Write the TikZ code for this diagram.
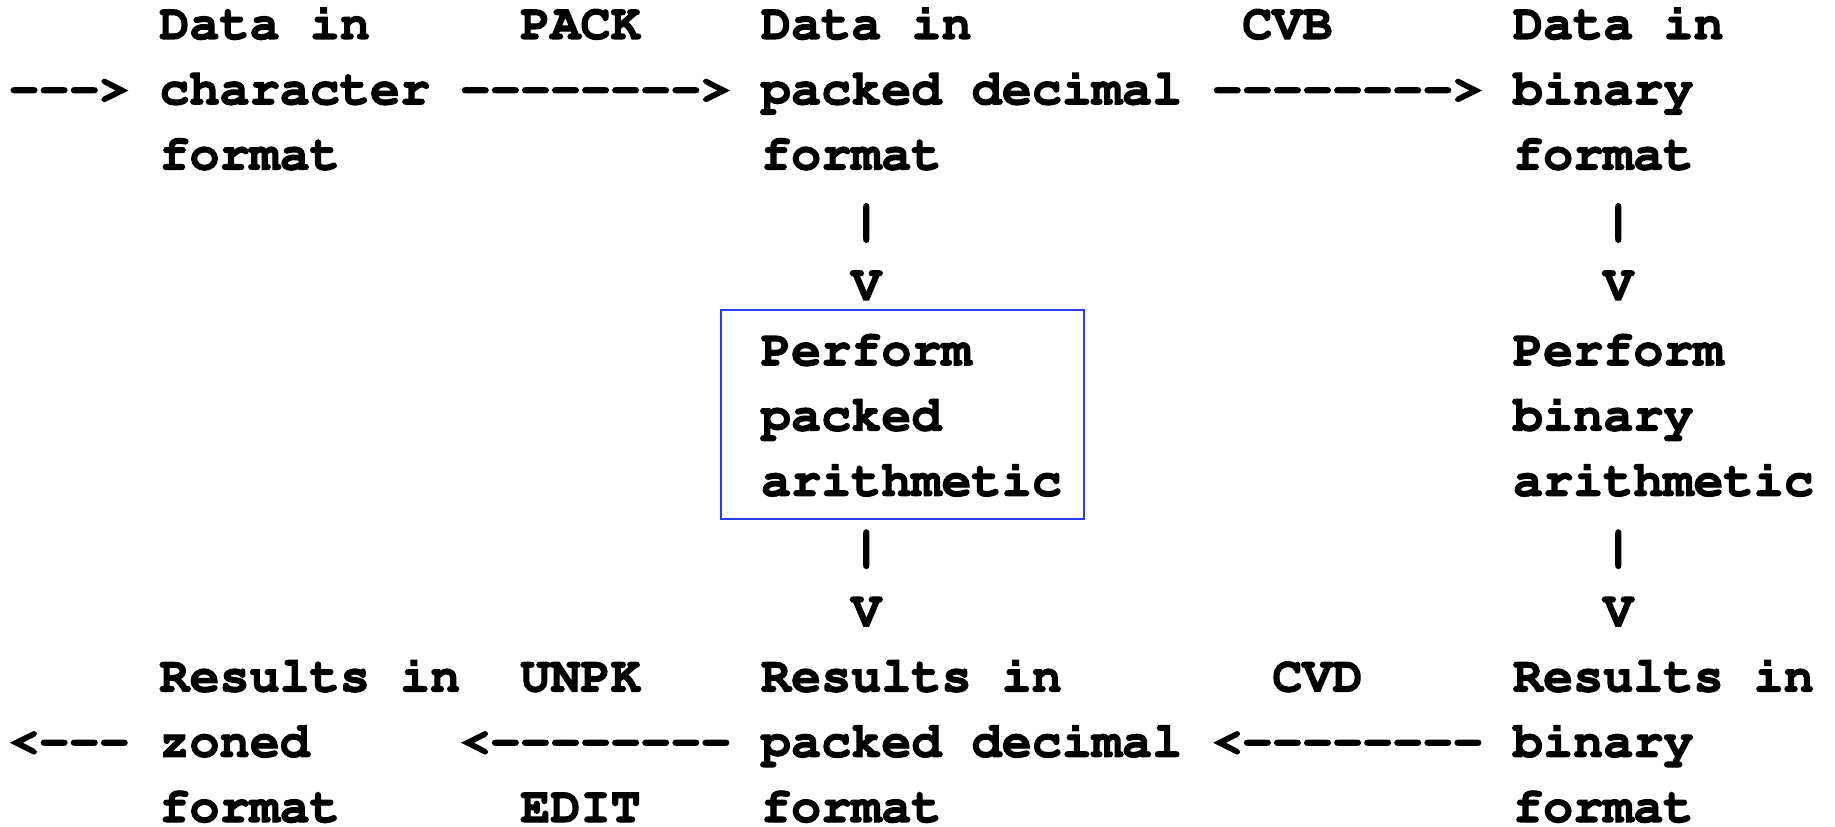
\documentclass[tikz,border=0pt]{standalone}
\usepackage[T1]{fontenc}
\definecolor{frameblue}{RGB}{40,60,255}
% bold Courier at a size whose cell is 15.04pt wide
\newcommand\codefont{\fontencoding{T1}\fontfamily{pcr}\fontseries{b}\fontshape{n}\fontsize{25.07pt}{32.6pt}\selectfont}
\begin{document}
% One unit in x is one character cell, one unit in y is one text line.
\begin{tikzpicture}[x=15.04pt, y=-32.625pt,
  txt/.style={anchor=base west, inner sep=0pt, outer sep=0pt, font=\codefont,
    execute at begin node={\special{pdf:code q 2 Tr 0.55 w}},
    execute at end node={\special{pdf:code Q}}},
  frame/.style={draw=frameblue, line width=1pt}]
\useasboundingbox[fill=white] (-0.2992,-0.5977) rectangle (60.705,12.0766);

% top row: conversions into working formats
\node[txt] (a1) at (5,0) {Data in};
\node[txt] (a2) at (5,1) {character};
\node[txt] (a3) at (5,2) {format};
\node[txt] (in) at (0,1) {-{}-{}-{}>};
\node[txt] (pack) at (17,0) {PACK};
\node[txt] (packarr) at (15,1) {-{}-{}-{}-{}-{}-{}-{}-{}>};
\node[txt] (b1) at (25,0) {Data in};
\node[txt] (b2) at (25,1) {packed decimal};
\node[txt] (b3) at (25,2) {format};
\node[txt] (cvb) at (41,0) {CVB};
\node[txt] (cvbarr) at (40,1) {-{}-{}-{}-{}-{}-{}-{}-{}>};
\node[txt] (c1) at (50,0) {Data in};
\node[txt] (c2) at (50,1) {binary};
\node[txt] (c3) at (50,2) {format};

% downward arrows into the arithmetic step
\node[txt] (bbar1) at (28,3) {|};
\node[txt] (bv1) at (28,4) {V};
\node[txt] (cbar1) at (53,3) {|};
\node[txt] (cv1) at (53,4) {V};

% arithmetic step
\node[txt] (p1) at (25,5) {Perform};
\node[txt] (p2) at (25,6) {packed};
\node[txt] (p3) at (25,7) {arithmetic};
\node[txt] (q1) at (50,5) {Perform};
\node[txt] (q2) at (50,6) {binary};
\node[txt] (q3) at (50,7) {arithmetic};
\draw[frame] (23.67,4.16) rectangle (35.74,7.356);

% downward arrows to the results
\node[txt] (bbar2) at (28,8) {|};
\node[txt] (bv2) at (28,9) {V};
\node[txt] (cbar2) at (53,8) {|};
\node[txt] (cv2) at (53,9) {V};

% bottom row: conversions back
\node[txt] (d1) at (5,10) {Results in};
\node[txt] (d2) at (5,11) {zoned};
\node[txt] (d3) at (5,12) {format};
\node[txt] (out) at (0,11) {<-{}-{}-};
\node[txt] (unpk) at (17,10) {UNPK};
\node[txt] (unpkarr) at (15,11) {<-{}-{}-{}-{}-{}-{}-{}-};
\node[txt] (edit) at (17,12) {EDIT};
\node[txt] (e1) at (25,10) {Results in};
\node[txt] (e2) at (25,11) {packed decimal};
\node[txt] (e3) at (25,12) {format};
\node[txt] (cvd) at (42,10) {CVD};
\node[txt] (cvdarr) at (40,11) {<-{}-{}-{}-{}-{}-{}-{}-};
\node[txt] (f1) at (50,10) {Results in};
\node[txt] (f2) at (50,11) {binary};
\node[txt] (f3) at (50,12) {format};
\end{tikzpicture}
\end{document}
